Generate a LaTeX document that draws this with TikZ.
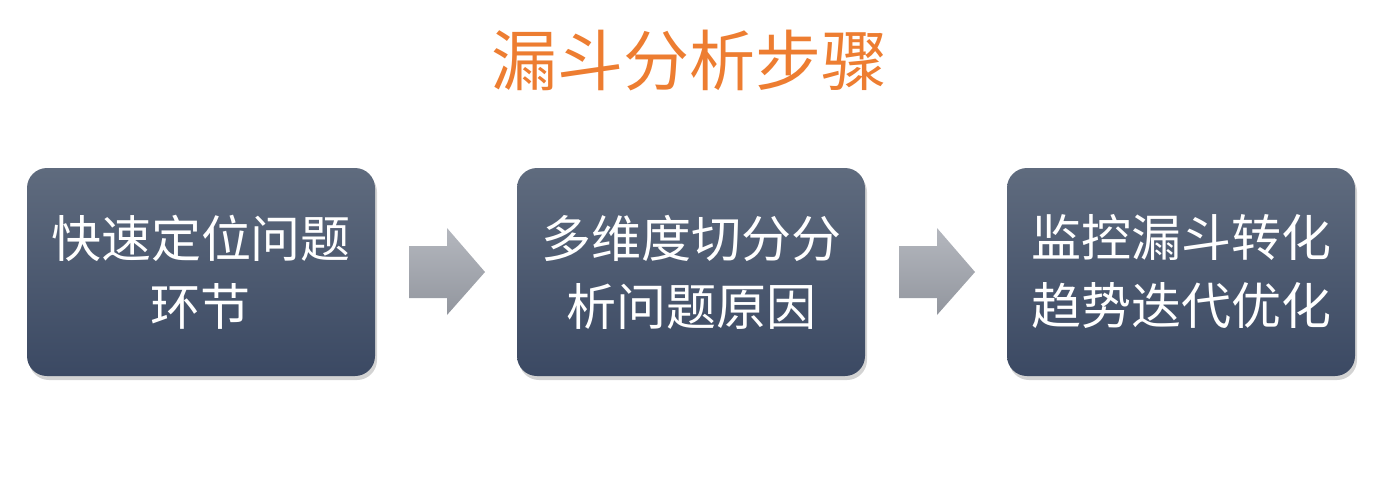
\documentclass[tikz,border=0pt]{standalone}
\usepackage{fontspec}
\newfontfamily\cjk{Noto Sans CJK SC}
\usetikzlibrary{shadows,calc}
\definecolor{titleorange}{HTML}{ED7D31}
\definecolor{boxtop}{HTML}{5F6B7E}
\definecolor{boxbot}{HTML}{3B4963}
\definecolor{arrtop}{HTML}{B4B7BE}
\definecolor{arrbot}{HTML}{92969E}
\tikzset{
  stepbox/.style={rounded corners=20pt, top color=boxtop, bottom color=boxbot,
    minimum width=348pt, minimum height=208pt, inner sep=0pt,
    drop shadow={shadow xshift=2pt, shadow yshift=-4pt, opacity=0.35},
    text=white, font=\cjk\fontsize{50}{68}\selectfont, align=center},
  flowarrow/.style={top color=arrtop, bottom color=arrbot, draw=none}
}
\begin{document}
\begin{tikzpicture}[x=1pt,y=-1pt]
\useasboundingbox (0,0) rectangle (1382,499);
\node[text=titleorange, font=\cjk\fontsize{66}{70}\selectfont] (title) at (689,61) {漏斗分析步骤};
\node[stepbox] (b1) at (201,272) {快速定位问题\\环节};
\node[stepbox] (b2) at (691,272) {多维度切分分\\析问题原因};
\node[stepbox] (b3) at (1181,272) {监控漏斗转化\\趋势迭代优化};
\coordinate (a1) at ($(b1.east)!0.5!(b2.west)$);
\coordinate (a2) at ($(b2.east)!0.5!(b3.west)$);
\foreach \a in {a1,a2}{
  \shade[flowarrow] ($(\a)+(-37,-26)$) -- ($(\a)+(1,-26)$) -- ($(\a)+(1,-44)$)
    -- ($(\a)+(39,0)$) -- ($(\a)+(1,43)$) -- ($(\a)+(1,26)$)
    -- ($(\a)+(-37,26)$) -- cycle;
}
\end{tikzpicture}
\end{document}
